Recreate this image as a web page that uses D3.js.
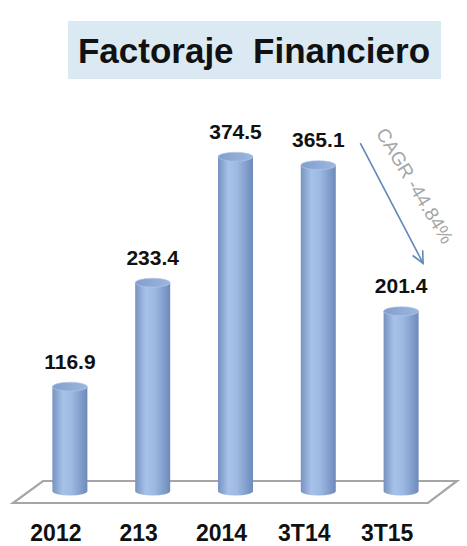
<!DOCTYPE html>
<html>
<head>
<meta charset="utf-8">
<script src="https://cdn.jsdelivr.net/npm/d3@7"></script>
<style>
  body { margin: 0; background: #fff; }
  svg { display: block; }
</style>
</head>
<body>
<svg id="chart" width="467" height="546"></svg>
<script>
const categories = ["2012", "213", "2014", "3T14", "3T15"];
const values = [116.9, 233.4, 374.5, 365.1, 201.4];
const chartTitle = "Factoraje  Financiero";
const cagrLabel = "CAGR -44.84%";

const svg = d3.select("#chart");
const width = +svg.attr("width");
const height = +svg.attr("height");

const x = d3.scalePoint()
  .domain(categories)
  .range([28.5, 442.5])
  .padding(0.5);

const y = d3.scaleLinear()
  .domain([0, 400])
  .range([491, 134]);

const barW = 35;
const ry = 4.5;

// gradient for the cylinders
const defs = svg.append("defs");
const grad = defs.append("linearGradient").attr("id", "cyl");
grad.append("stop").attr("offset", "0%").attr("stop-color", "#7692c0");
grad.append("stop").attr("offset", "30%").attr("stop-color", "#a7c2e9");
grad.append("stop").attr("offset", "55%").attr("stop-color", "#9db9e2");
grad.append("stop").attr("offset", "100%").attr("stop-color", "#6d8abb");

const topGrad = defs.append("linearGradient").attr("id", "cyltop");
topGrad.append("stop").attr("offset", "0%").attr("stop-color", "#819fcd");
topGrad.append("stop").attr("offset", "100%").attr("stop-color", "#9cb7df");

// title
svg.append("rect")
  .attr("x", 68).attr("y", 21)
  .attr("width", 373).attr("height", 58)
  .attr("fill", "#dbe9f3");

svg.append("text")
  .attr("x", 254)
  .attr("y", 63)
  .attr("text-anchor", "middle")
  .style("font-family", "'Liberation Sans', Arial, sans-serif")
  .style("font-size", "35px")
  .style("font-weight", "bold")
  .style("white-space", "pre")
  .attr("fill", "#111")
  .text(chartTitle);

// floor
svg.append("path")
  .attr("d", "M43,481 L457,481 L428,503 L13,503 Z")
  .attr("fill", "#fff")
  .attr("stroke", "#a6a6a6")
  .attr("stroke-width", 2.2);

// cylinders
const bars = svg.selectAll("g.bar")
  .data(categories.map((c, i) => ({cat: c, val: values[i]})))
  .join("g")
  .attr("class", "bar");

bars.append("path")
  .attr("fill", "url(#cyl)")
  .attr("d", d => {
    const cx = x(d.cat), l = cx - barW / 2, r = cx + barW / 2;
    const t = y(d.val), b = y(0);
    return `M${l},${t} L${l},${b} A${barW / 2},${ry} 0 0 0 ${r},${b} L${r},${t} Z`;
  });

bars.append("ellipse")
  .attr("cx", d => x(d.cat))
  .attr("cy", d => y(d.val))
  .attr("rx", barW / 2)
  .attr("ry", ry)
  .attr("fill", "url(#cyltop)")
  .attr("stroke", "#b4c9ea")
  .attr("stroke-width", 0.6);

// value labels
bars.append("text")
  .attr("x", d => x(d.cat))
  .attr("y", d => y(d.val) - 18)
  .attr("text-anchor", "middle")
  .style("font-family", "'Liberation Sans', Arial, sans-serif")
  .style("font-size", "21px")
  .style("font-weight", "bold")
  .attr("fill", "#111")
  .text(d => d.val.toFixed(1));

// category labels
svg.selectAll("text.cat")
  .data(categories)
  .join("text")
  .attr("class", "cat")
  .attr("x", d => x(d) - 14)
  .attr("y", 541)
  .attr("text-anchor", "middle")
  .style("font-family", "'Liberation Sans', Arial, sans-serif")
  .style("font-size", "23px")
  .style("font-weight", "bold")
  .attr("fill", "#111")
  .text(d => d);

// CAGR arrow
const x0 = x("3T14") + 42, y0 = y(values[3]) - 22;
const x1 = x("3T15") + 22, y1 = y(values[4]) - 48;
const ang = Math.atan2(y1 - y0, x1 - x0);
const head = 13;
svg.append("line")
  .attr("x1", x0).attr("y1", y0)
  .attr("x2", x1).attr("y2", y1)
  .attr("stroke", "#5f88b8")
  .attr("stroke-width", 1.6);
svg.append("path")
  .attr("d", `M${x1 - head * Math.cos(ang - 0.45)},${y1 - head * Math.sin(ang - 0.45)} L${x1},${y1} L${x1 - head * Math.cos(ang + 0.45)},${y1 - head * Math.sin(ang + 0.45)}`)
  .attr("fill", "none")
  .attr("stroke", "#5f88b8")
  .attr("stroke-width", 1.6);

svg.append("text")
  .attr("transform", `translate(${x0 + 49},${y0 + 46}) rotate(59)`)
  .attr("text-anchor", "middle")
  .style("font-family", "'Liberation Sans', Arial, sans-serif")
  .style("font-size", "19px")
  .attr("fill", "#a6a6a6")
  .text(cagrLabel);
</script>
</body>
</html>
